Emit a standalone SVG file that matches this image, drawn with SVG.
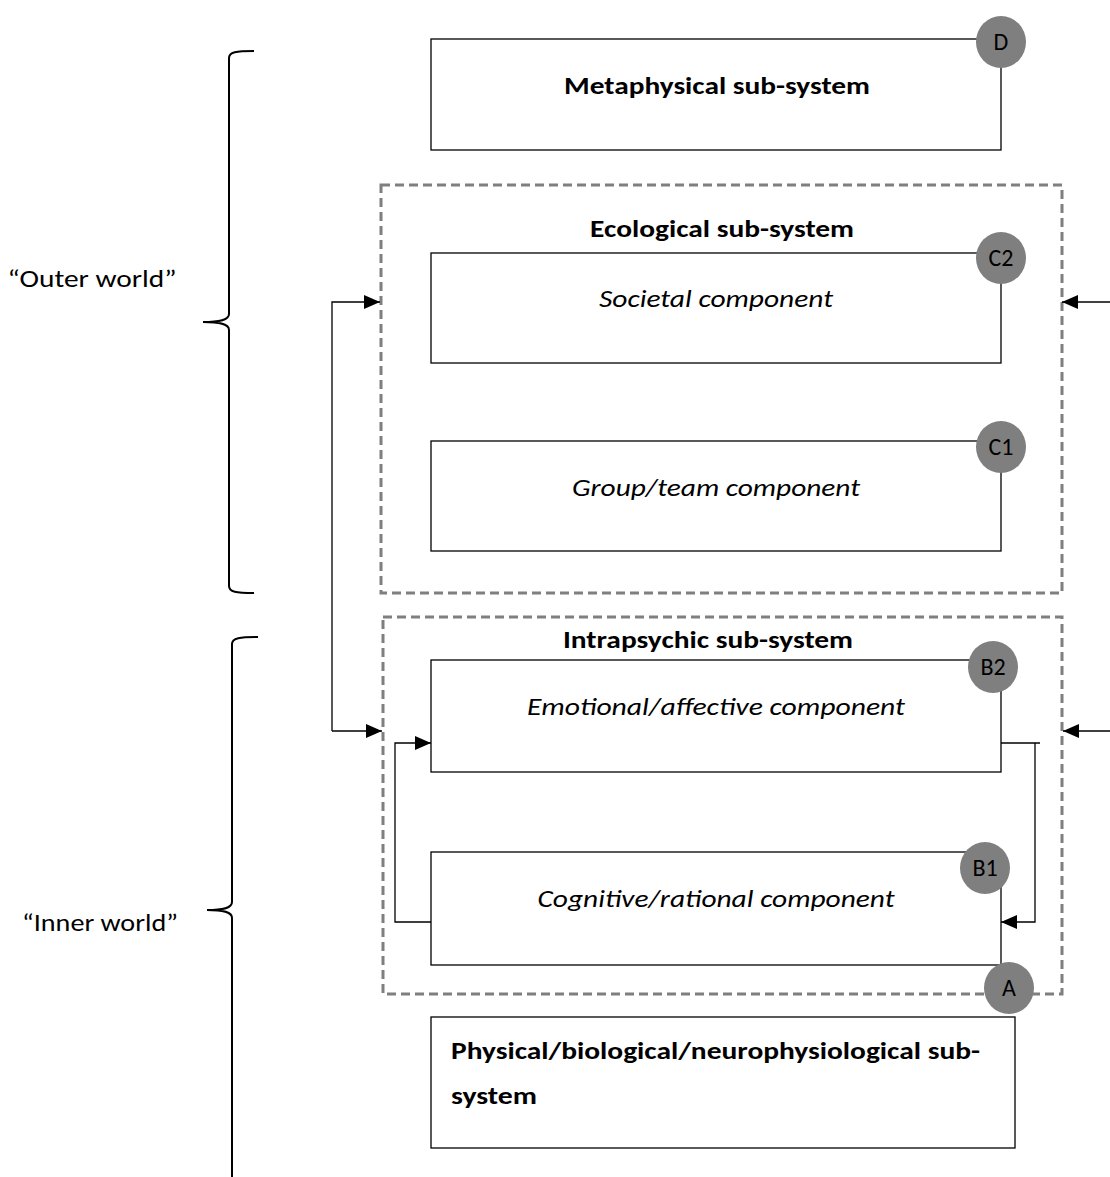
<svg xmlns="http://www.w3.org/2000/svg" width="1110" height="1177" viewBox="0 0 1110 1177">
<style>
.box{fill:#fff;stroke:#000;stroke-width:1.3}
.dash{fill:none;stroke:#7f7f7f;stroke-width:3;stroke-dasharray:9 5}
.badge{fill:#7f7f7f;stroke:none}
.bl{font-family:Carlito,Lato,"Liberation Sans",sans-serif;font-size:24px;fill:#000;text-anchor:middle}
.b{font-family:Carlito,Lato,"Liberation Sans",sans-serif;font-size:25px;font-weight:bold;fill:#000}
.i{font-family:Carlito,Lato,"Liberation Sans",sans-serif;font-size:25px;font-style:italic;fill:#000}
.r{font-family:Carlito,Lato,"Liberation Sans",sans-serif;font-size:25px;fill:#000}
.c{text-anchor:middle}
.ln{fill:none;stroke:#000;stroke-width:1.3}
.brace{fill:none;stroke:#000;stroke-width:2}
</style>
<defs>
<marker id="ah" markerWidth="16" markerHeight="14" refX="16" refY="7" orient="auto" markerUnits="userSpaceOnUse">
<path d="M0,0 L16,7 L0,14 Z" fill="#000"/>
</marker>
</defs>

<g id="braces">
<path class="brace" d="M254,51 C236,51 229,52 229,58 L229,314 C229,320 220,322 203,322 C220,322 229,324 229,330 L229,586 C229,592 236,593 254,593"/>
<path class="brace" d="M258,637 C240,637 232,638 232,644 L232,902 C232,908 224,910 207,910 C224,910 232,912 232,918 L232,1177"/>
</g>

<g id="outer-label"><text class="r" x="92" y="287" text-anchor="middle" textLength="169" lengthAdjust="spacingAndGlyphs">“Outer world”</text></g>
<g id="inner-label"><text class="r" x="100" y="931" text-anchor="middle" textLength="156" lengthAdjust="spacingAndGlyphs">“Inner world”</text></g>

<g id="ecological">
<rect class="dash" x="381" y="185" width="681" height="408"/>
<text class="b c" x="722" y="237" textLength="264" lengthAdjust="spacingAndGlyphs">Ecological sub-system</text>
</g>

<g id="intrapsychic">
<rect class="dash" x="383" y="617" width="679" height="377"/>
<text class="b c" x="708" y="648" textLength="290" lengthAdjust="spacingAndGlyphs">Intrapsychic sub-system</text>
</g>

<g id="connectors">
<polyline class="ln" points="332,731 332,302 380,302" marker-end="url(#ah)"/>
<polyline class="ln" points="332,731 382,731" marker-end="url(#ah)"/>
<line class="ln" x1="1110" y1="302" x2="1062" y2="302" marker-end="url(#ah)"/>
<line class="ln" x1="1110" y1="731" x2="1063" y2="731" marker-end="url(#ah)"/>
<polyline class="ln" points="431,922 395,922 395,743 431,743" marker-end="url(#ah)"/>
<polyline class="ln" points="1001,743 1040,743"/>
<polyline class="ln" points="1035,743 1035,922 1001,922" marker-end="url(#ah)"/>
</g>

<g id="metaphysical">
<rect class="box" x="431" y="39" width="570" height="111"/>
<text class="b c" x="717" y="94" textLength="306" lengthAdjust="spacingAndGlyphs">Metaphysical sub-system</text>
<ellipse class="badge" cx="1001" cy="42" rx="25" ry="26"/>
<text class="bl" x="1001" y="50">D</text>
</g>

<g id="societal">
<rect class="box" x="431" y="253" width="570" height="110"/>
<text class="i c" x="716" y="307" textLength="234" lengthAdjust="spacingAndGlyphs">Societal component</text>
<ellipse class="badge" cx="1001" cy="258" rx="25" ry="26"/>
<text class="bl" x="1001" y="266">C2</text>
</g>

<g id="group">
<rect class="box" x="431" y="441" width="570" height="110"/>
<text class="i c" x="716" y="496" textLength="288" lengthAdjust="spacingAndGlyphs">Group/team component</text>
<ellipse class="badge" cx="1001" cy="447" rx="25" ry="26"/>
<text class="bl" x="1001" y="455">C1</text>
</g>

<g id="emotional">
<rect class="box" x="431" y="660" width="570" height="112"/>
<text class="i c" x="716" y="715" textLength="378" lengthAdjust="spacingAndGlyphs">Emotional/affective component</text>
<ellipse class="badge" cx="993" cy="667" rx="25" ry="26"/>
<text class="bl" x="993" y="675">B2</text>
</g>

<g id="cognitive">
<rect class="box" x="431" y="852" width="570" height="113"/>
<text class="i c" x="716" y="907" textLength="357" lengthAdjust="spacingAndGlyphs">Cognitive/rational component</text>
<ellipse class="badge" cx="985" cy="868" rx="25" ry="26"/>
<text class="bl" x="985" y="876">B1</text>
</g>

<g id="physical">
<rect class="box" x="431" y="1017" width="584" height="131"/>
<text class="b" x="451" y="1059" textLength="529" lengthAdjust="spacingAndGlyphs">Physical/biological/neurophysiological sub-</text>
<text class="b" x="451" y="1104" textLength="86" lengthAdjust="spacingAndGlyphs">system</text>
<ellipse class="badge" cx="1009" cy="988" rx="25" ry="26"/>
<text class="bl" x="1009" y="996">A</text>
</g>
</svg>
